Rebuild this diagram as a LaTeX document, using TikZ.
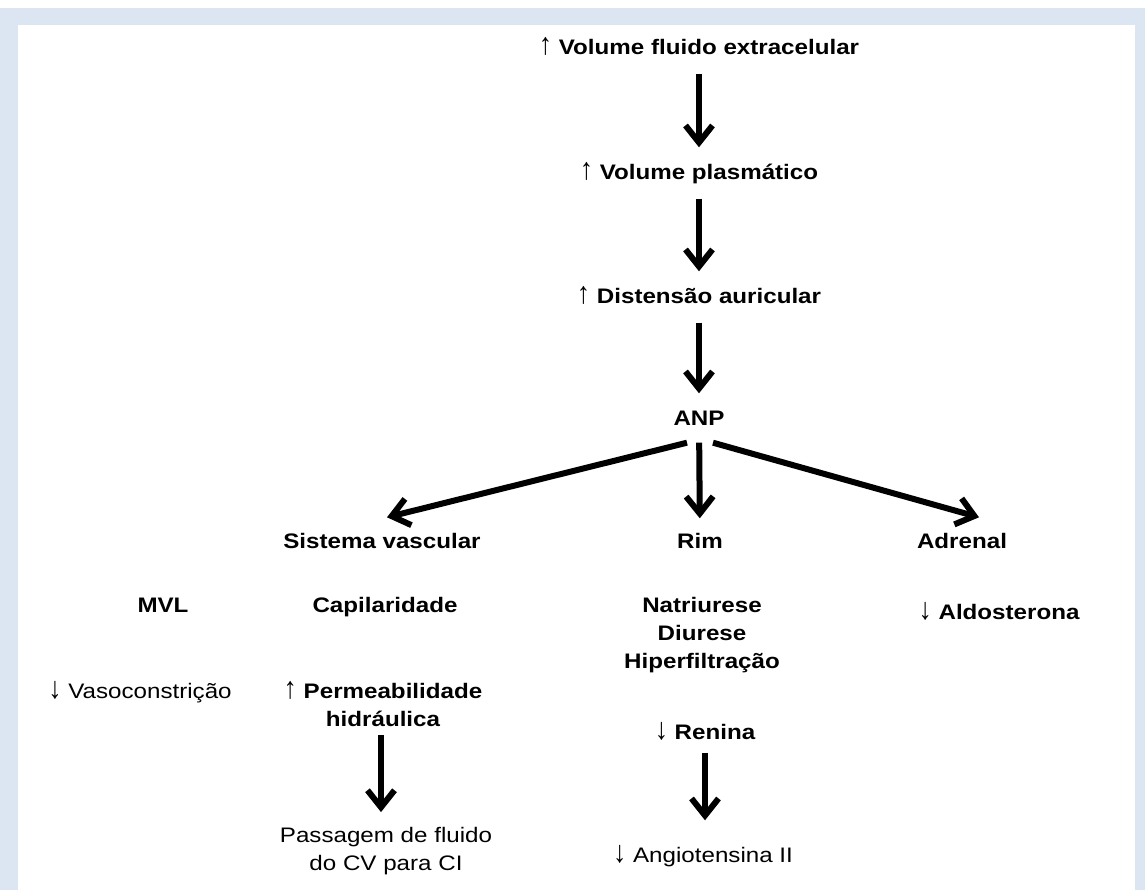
\documentclass[tikz,border=0pt]{standalone}
\usepackage{fontspec}
\setmainfont[FakeStretch=1.15]{Liberation Sans}
\usetikzlibrary{arrows.meta}
\definecolor{moldura}{RGB}{220,230,242}
\newcommand{\sobe}{\scalebox{1.1}[1.45]{↑}}
\newcommand{\desce}{\scalebox{1.1}[1.45]{↓}}
\tikzset{
  txt/.style={inner sep=0pt, anchor=base, align=center, font=\fontsize{21}{28}\selectfont\bfseries},
  txtn/.style={txt, font=\fontsize{21}{28}\selectfont},
  linha/.style={text height=15pt, text depth=5pt},
  seta/.style={-{Straight Barb[length=17pt,width=27pt]}, line width=6pt},
  vertical/.style={seta, shorten <=14pt, shorten >=17pt}
}
\begin{document}
\begin{tikzpicture}[x=1pt,y=-1pt]
  \useasboundingbox (0,0) rectangle (1145,890);
  % moldura
  \fill[moldura] (0,8) rectangle (1145,890);
  \fill[white] (18,25) rectangle (1135,890);

  % cadeia principal
  \node[txt,linha] (vfe) at (699,54.5) {\sobe\ Volume fluido extracelular};
  \node[txt,linha] (vp) at (699,179.5) {\sobe\ Volume plasmático};
  \node[txt,linha] (da) at (699,303.5) {\sobe\ Distensão auricular};
  \node[txt,linha] (anp) at (699,425.5) {ANP};
  \draw[vertical] (vfe) -- (vp);
  \draw[vertical] (vp) -- (da);
  \draw[vertical] (da) -- (anp);

  % alvos
  \node[txt,linha] (sv) at (382,548.5) {Sistema vascular};
  \node[txt,linha] (rim) at (700,548.5) {Rim};
  \node[txt,linha] (adr) at (962,548.5) {Adrenal};
  \draw[vertical, shorten <=12pt, shorten >=15pt] (anp) -- (rim);
  \draw[seta] ([xshift=-12pt,yshift=-12pt]anp.south) -- ([xshift=5pt,yshift=16pt]sv.north);
  \draw[seta] ([xshift=14pt,yshift=-12pt]anp.south) -- ([xshift=17pt,yshift=16pt]adr.north);

  % efeitos (base = ultima linha)
  \node[txt] (mvl) at (163,612.5) {MVL};
  \node[txt] (cap) at (385,612.5) {Capilaridade};
  \node[txt] (nat) at (702,668.5) {Natriurese\\Diurese\\Hiperfiltração};
  \node[txt] (aldo) at (999,619.5) {\desce\ Aldosterona};
  \node[txtn] (vaso) at (140,698.5) {\desce\ Vasoconstrição};
  \node[txt] (perm) at (383,726.5) {\sobe\ Permeabilidade\\hidráulica};
  \node[txt,linha] (ren) at (705,739.5) {\desce\ Renina};
  \node[txtn] (pass) at (386,870.5) {Passagem de fluido\\do CV para CI};
  \node[txtn,linha] (ang) at (703,862.5) {\desce\ Angiotensina II};
  \draw[seta, shorten <=8pt, shorten >=15pt] ([xshift=-2pt]perm.south) -- ([xshift=-2pt]perm.south |- pass.north);
  \draw[seta, shorten <=8pt, shorten >=27pt] (ren) -- (ren |- ang.north);
\end{tikzpicture}
\end{document}
